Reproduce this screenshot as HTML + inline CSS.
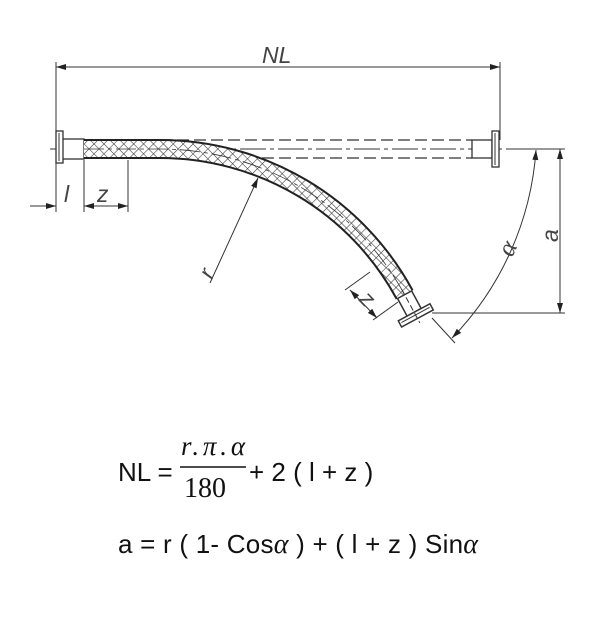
<!DOCTYPE html>
<html><head><meta charset="utf-8"><style>
html,body{margin:0;padding:0;background:#fff;}
svg{display:block;}
</style></head><body>
<svg width="600" height="637" viewBox="0 0 600 637" xmlns="http://www.w3.org/2000/svg">
<defs>
<pattern id="h" width="7" height="7" patternUnits="userSpaceOnUse" patternTransform="rotate(45)">
<rect width="7" height="7" fill="#fff"/>
<line x1="0" y1="0" x2="0" y2="7" stroke="#333" stroke-width="1.1"/>
<line x1="0" y1="0" x2="7" y2="0" stroke="#333" stroke-width="1.1"/>
</pattern>
<marker id="a" viewBox="0 0 10 6" refX="10" refY="3" markerWidth="11" markerHeight="6" orient="auto-start-reverse" markerUnits="userSpaceOnUse"><path d="M0,0 L10,3 L0,6z" fill="#222"/></marker>
</defs>
<g stroke="#333" fill="none" stroke-width="1">
<line x1="56" y1="62" x2="56" y2="212"/>
<line x1="500" y1="62" x2="500" y2="140"/>
<line x1="56" y1="67" x2="500" y2="67" marker-start="url(#a)" marker-end="url(#a)"/>
<line x1="160" y1="140" x2="472" y2="140" stroke-dasharray="12,5" stroke-width="1.2"/>
<line x1="160" y1="158" x2="472" y2="158" stroke-dasharray="12,5" stroke-width="1.2"/>
<line x1="50" y1="149" x2="510" y2="149" stroke-dasharray="26,4,4,4"/>
<rect x="472" y="140" width="20" height="18" fill="#fff" stroke-width="1.3"/>
<rect x="492" y="131" width="7" height="36" fill="#fff" stroke-width="1.3"/>
<line x1="495" y1="133" x2="495" y2="165"/>
<rect x="62" y="139" width="22" height="20" fill="#fff" stroke-width="1.3"/>
<rect x="56" y="131" width="7" height="32" fill="#fff" stroke-width="1.3"/>
<line x1="59" y1="133" x2="59" y2="161"/>
<path d="M84,149 H160 A278 278 0 0 1 404.6,294.7" stroke="url(#h)" stroke-width="18"/>
<path d="M84,140 H160 A287 287 0 0 1 412.6,290.4" stroke-width="2" stroke="#222"/>
<path d="M84,158 H160 A269 269 0 0 1 396.7,299.0" stroke-width="2" stroke="#222"/>
<path d="M84,149 H160 A278 278 0 0 1 404.6,294.7" stroke-dasharray="20,4,4,4" stroke-width="0.8"/>
<g transform="translate(404.6,294.7) rotate(61.6)">
<rect x="0" y="-8" width="20" height="16" fill="#fff" stroke-width="1.5"/>
<rect x="20" y="-18" width="7" height="36" fill="#fff" stroke-width="1.5"/>
<line x1="23" y1="-16" x2="23" y2="16"/>
<line x1="-6" y1="0" x2="32" y2="0" stroke-dasharray="6,3"/>
</g>
<line x1="84" y1="160" x2="84" y2="212"/>
<line x1="128" y1="160" x2="128" y2="212"/>
<line x1="30" y1="206" x2="56" y2="206" marker-end="url(#a)"/>
<line x1="84" y1="206" x2="128" y2="206" marker-start="url(#a)" marker-end="url(#a)"/>
<line x1="210" y1="283" x2="258" y2="178" marker-end="url(#a)"/>
<line x1="370" y1="272" x2="345" y2="290"/>
<line x1="398" y1="302" x2="373" y2="320"/>
<line x1="350" y1="290" x2="377" y2="318" marker-start="url(#a)" marker-end="url(#a)"/>
<line x1="508" y1="149" x2="565" y2="149"/>
<line x1="432" y1="313" x2="565" y2="313"/>
<line x1="560" y1="149" x2="560" y2="313" marker-start="url(#a)" marker-end="url(#a)"/>
<line x1="432" y1="318" x2="455" y2="343"/>
<path d="M536,150 A300 300 0 0 1 452,338" marker-start="url(#a)" marker-end="url(#a)"/>
</g>
<g font-family="Liberation Sans, sans-serif" font-style="italic" fill="#444" font-size="23">
<text x="262" y="63">NL</text>
<text x="64" y="202">l</text>
<text x="97" y="202">z</text>
<text x="0" y="0" transform="translate(212,280) rotate(-65)">r</text>
<text x="0" y="0" transform="translate(358,300) rotate(46)">z</text>
<text x="0" y="0" transform="translate(512,258) rotate(-65)" font-family="Liberation Serif, serif" font-size="26">α</text>
<text x="0" y="0" transform="translate(558,242) rotate(-90)">a</text>
</g>
<g font-family="Liberation Sans, sans-serif" fill="#111" font-size="26">
<text x="118" y="481">NL =</text>
<text x="181" y="455" font-family="Liberation Serif, serif" font-style="italic" font-size="27" textLength="64">r.π.α</text>
<line x1="180" y1="467" x2="246" y2="467" stroke="#111" stroke-width="1.6"/>
<text x="184" y="497" font-family="Liberation Serif, serif" font-size="28">180</text>
<text x="249" y="481">+ 2 ( l + z )</text>
<text x="118" y="553" textLength="360">a = r ( 1- Cos<tspan font-family="Liberation Serif, serif" font-style="italic" font-size="28">α</tspan> ) + ( l + z ) Sin<tspan font-family="Liberation Serif, serif" font-style="italic" font-size="28">α</tspan></text>
</g>
</svg>
</body></html>
